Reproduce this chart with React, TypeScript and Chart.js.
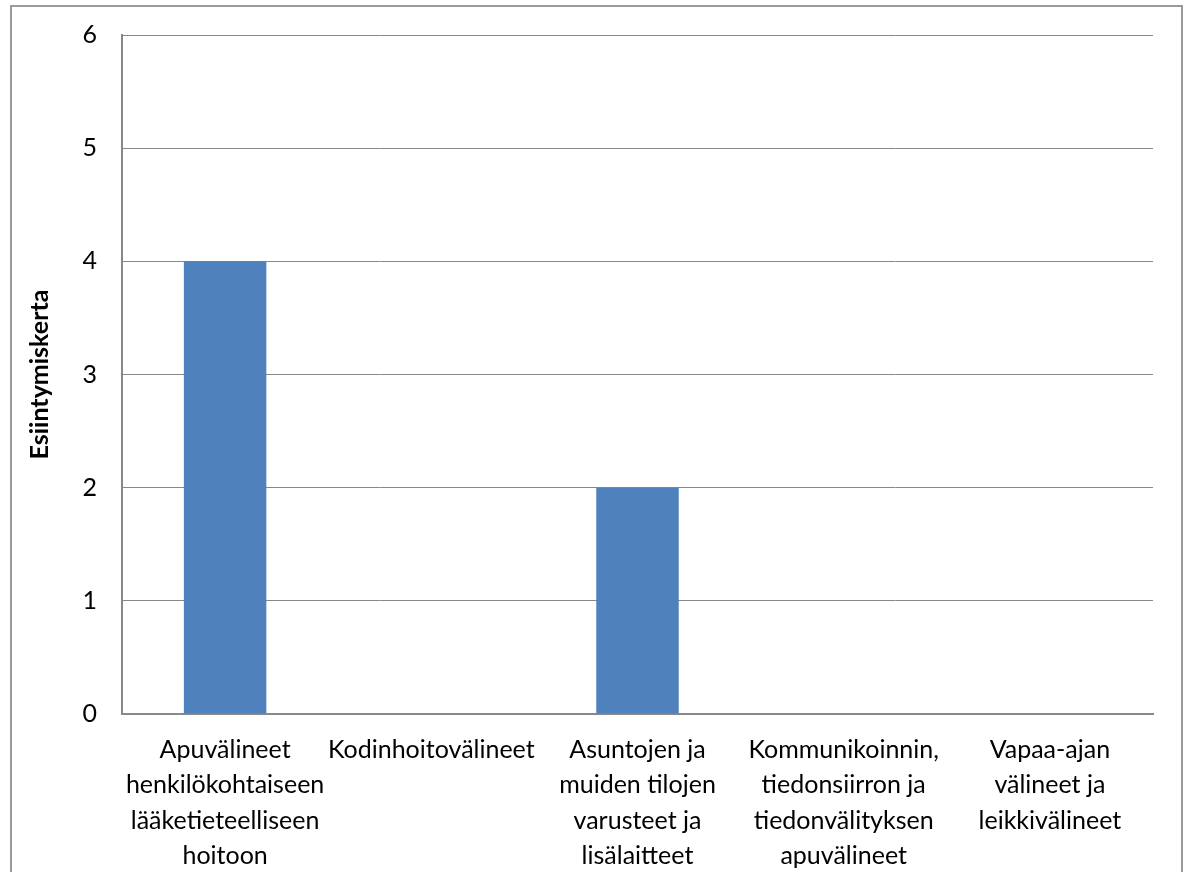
import React, { useEffect, useRef } from "react";
import { Chart, registerables } from "chart.js";

Chart.register(...registerables);

const categories: string[][] = [
  ["Apuvälineet", "henkilökohtaiseen", "lääketieteelliseen", "hoitoon"],
  ["Kodinhoitovälineet"],
  ["Asuntojen ja", "muiden tilojen", "varusteet ja", "lisälaitteet"],
  ["Kommunikoinnin,", "tiedonsiirron ja", "tiedonvälityksen", "apuvälineet"],
  ["Vapaa-ajan", "välineet ja", "leikkivälineet"],
];
const values: number[] = [4, 0, 2, 0, 0];
const yAxisTitle = "Esiintymiskerta";
const yMin = 0;
const yMax = 6;
const yStep = 1;

const FONT = "Lato, 'Open Sans', sans-serif";

const borderPlugin = {
  id: "outerBorder",
  afterDraw(chart: any) {
    const ctx = chart.ctx;
    ctx.save();
    ctx.strokeStyle = "#9a9a9a";
    ctx.lineWidth = 2;
    ctx.strokeRect(11, 6, 1171, 900);
    ctx.restore();
  },
};

export default function App() {
  const ref = useRef<HTMLCanvasElement | null>(null);
  useEffect(() => {
    document.body.style.margin = "0";
    const canvas = ref.current!;
    const chart = new Chart(canvas, {
      type: "bar",
      data: {
        labels: categories,
        datasets: [
          {
            data: values,
            backgroundColor: "#4F81BD",
            categoryPercentage: 1,
            barPercentage: 0.4,
          },
        ],
      },
      plugins: [borderPlugin],
      options: {
        animation: false,
        responsive: false,
        maintainAspectRatio: false,
        layout: { padding: { top: 35, right: 33, left: 0, bottom: 0 } },
        plugins: { legend: { display: false }, tooltip: { enabled: false } },
        scales: {
          x: {
            grid: { display: false, drawTicks: false },
            border: { display: true, color: "#888888", width: 2 },
            ticks: {
              autoSkip: false,
              maxRotation: 0,
              minRotation: 0,
              padding: 18,
              color: "#000",
              font: { family: FONT, size: 25, lineHeight: "35.5px" } as any,
            },
            afterFit(scale: any) {
              scale.height = 872 - 714;
              scale.paddingLeft = 0;
              scale.paddingRight = 0;
            },
          },
          y: {
            min: yMin,
            max: yMax,
            grid: { color: "#888888", lineWidth: 1, drawTicks: false },
            border: { display: true, color: "#888888", width: 2 },
            ticks: {
              stepSize: yStep,
              padding: 25,
              color: "#000",
              font: { family: FONT, size: 25 },
            },
            title: {
              display: true,
              text: yAxisTitle,
              color: "#000",
              font: { family: FONT, size: 25, weight: "bold" },
              padding: { top: 25, bottom: 0 },
            },
            afterFit(scale: any) {
              scale.width = 122;
              scale.paddingTop = 0;
              scale.paddingBottom = 0;
            },
          },
        },
      },
    });
    return () => chart.destroy();
  }, []);
  return <canvas ref={ref} width={1186} height={872} style={{ display: "block" }} />;
}
